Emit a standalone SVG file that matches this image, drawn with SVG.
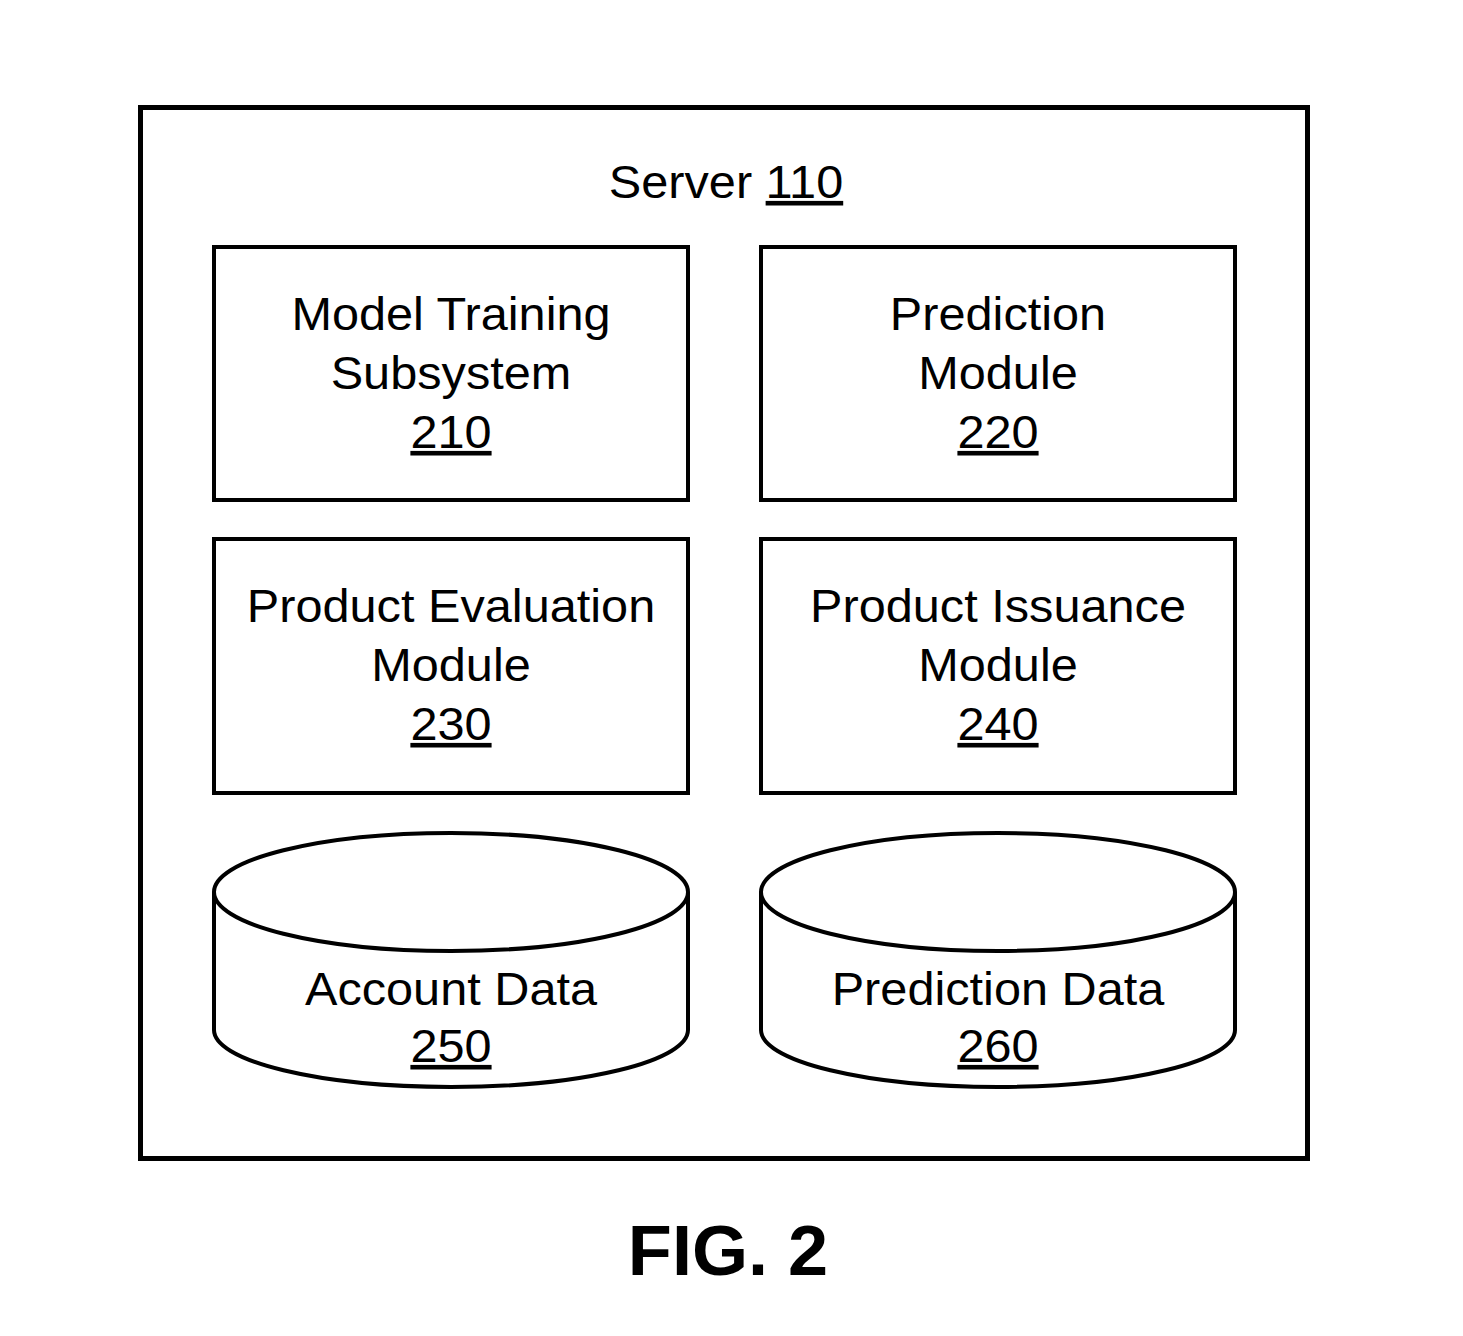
<svg xmlns="http://www.w3.org/2000/svg" width="1463" height="1336" viewBox="0 0 1463 1336">
<style>
.box{fill:#fff;stroke:#000;stroke-width:4}
.outer{fill:#fff;stroke:#000;stroke-width:5}
.t{font-family:"Liberation Sans",Arial,sans-serif;font-size:46px;fill:#000;text-anchor:middle}
.u{text-decoration:underline}
.fig{font-family:"Liberation Sans",Arial,sans-serif;font-size:70px;font-weight:bold;fill:#000;text-anchor:middle}
</style>
<rect width="1463" height="1336" fill="#fff"/>
<g id="server">
<rect class="outer" x="140.5" y="107.5" width="1167" height="1051"/>
<text class="t" x="726" y="198" transform="matrix(1.058 0 0 1 -42.11 0)">Server <tspan class="u">110</tspan></text>
</g>
<g id="n210">
<rect class="box" x="214" y="247" width="474" height="253"/>
<g transform="matrix(1.058 0 0 1 -26.16 0)">
<text class="t" x="451" y="330">Model Training</text>
<text class="t" x="451" y="389">Subsystem</text>
<text class="t u" x="451" y="448">210</text>
</g>
</g>
<g id="n220">
<rect class="box" x="761" y="247" width="474" height="253"/>
<g transform="matrix(1.058 0 0 1 -57.88 0)">
<text class="t" x="998" y="330">Prediction</text>
<text class="t" x="998" y="389">Module</text>
<text class="t u" x="998" y="448">220</text>
</g>
</g>
<g id="n230">
<rect class="box" x="214" y="539" width="474" height="254"/>
<g transform="matrix(1.058 0 0 1 -26.16 0)">
<text class="t" x="451" y="622">Product Evaluation</text>
<text class="t" x="451" y="681">Module</text>
<text class="t u" x="451" y="740">230</text>
</g>
</g>
<g id="n240">
<rect class="box" x="761" y="539" width="474" height="254"/>
<g transform="matrix(1.058 0 0 1 -57.88 0)">
<text class="t" x="998" y="622">Product Issuance</text>
<text class="t" x="998" y="681">Module</text>
<text class="t u" x="998" y="740">240</text>
</g>
</g>
<g id="n250">
<path class="box" d="M214 892 A237 59 0 0 1 688 892 L688 1030 A237 57 0 0 1 214 1030 Z"/>
<path class="box" fill="none" d="M214 892 A237 59 0 0 0 688 892"/>
<g transform="matrix(1.058 0 0 1 -26.16 0)">
<text class="t" x="451" y="1005">Account Data</text>
<text class="t u" x="451" y="1062">250</text>
</g>
</g>
<g id="n260">
<path class="box" d="M761 892 A237 59 0 0 1 1235 892 L1235 1030 A237 57 0 0 1 761 1030 Z"/>
<path class="box" fill="none" d="M761 892 A237 59 0 0 0 1235 892"/>
<g transform="matrix(1.058 0 0 1 -57.88 0)">
<text class="t" x="998" y="1005">Prediction Data</text>
<text class="t u" x="998" y="1062">260</text>
</g>
</g>
<g id="connectors"></g>
<text class="fig" x="728" y="1275" transform="matrix(1.03 0 0 1 -21.84 0)">FIG. 2</text>
</svg>
